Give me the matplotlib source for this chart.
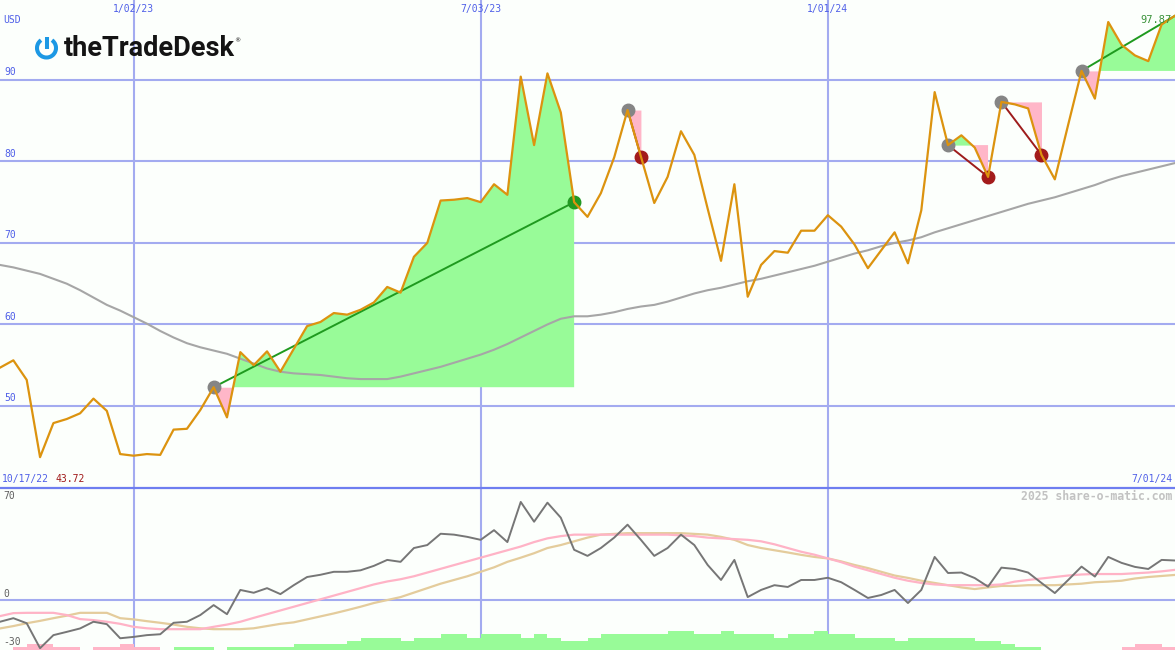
"""
Недельный график TTD (share-o-matic) - цена, скользящая средняя,
сигналы тренда и нижняя панель осциллятора
"""

import matplotlib
matplotlib.use('Agg')
import matplotlib.pyplot as plt
import matplotlib.transforms as mtransforms
from matplotlib.patches import Arc
import numpy as np
import pandas as pd

# --- данные (недельные отсчеты с 24.10.2022) ---
start_date = '2022-10-24'
price = [54.7, 55.6, 53.2, 43.72, 47.9, 48.4, 49.1, 50.9, 49.4, 44.1,
         43.9, 44.1, 44.0, 47.1, 47.2, 49.5, 52.3, 48.6, 56.6, 55.0,
         56.7, 54.2, 57.0, 59.8, 60.3, 61.4, 61.2, 61.8, 62.7, 64.6,
         63.9, 68.3, 70.0, 75.2, 75.3, 75.5, 75.0, 77.2, 75.9, 90.4,
         82.0, 90.8, 86.0, 75.0, 73.2, 76.1, 80.5, 86.3, 80.6, 74.9,
         78.1, 83.7, 80.8, 74.2, 67.8, 77.2, 63.4, 67.3, 69.0, 68.8,
         71.5, 71.5, 73.4, 72.0, 69.8, 66.9, 69.1, 71.3, 67.5, 74.0,
         88.5, 82.0, 83.2, 81.7, 78.1, 87.3, 87.0, 86.5, 80.8, 77.8,
         84.5, 91.1, 87.7, 97.1, 94.3, 93.0, 92.3, 96.8, 97.87]
ma40 = [67.3, 67.0, 66.6, 66.2, 65.6, 65.0, 64.2, 63.3, 62.4, 61.7,
        60.9, 60.1, 59.2, 58.4, 57.7, 57.2, 56.8, 56.4, 55.8, 55.2,
        54.6, 54.2, 54.0, 53.9, 53.8, 53.6, 53.4, 53.3, 53.3, 53.3,
        53.6, 54.0, 54.4, 54.8, 55.3, 55.8, 56.3, 56.9, 57.6, 58.4,
        59.2, 60.0, 60.7, 61.0, 61.0, 61.2, 61.5, 61.9, 62.2, 62.4,
        62.8, 63.3, 63.8, 64.2, 64.5, 64.9, 65.3, 65.6, 66.0, 66.4,
        66.8, 67.2, 67.7, 68.2, 68.7, 69.1, 69.6, 70.0, 70.3, 70.7,
        71.3, 71.8, 72.3, 72.8, 73.3, 73.8, 74.3, 74.8, 75.2, 75.6,
        76.1, 76.6, 77.1, 77.7, 78.2, 78.6, 79.0, 79.4, 79.8]

# сигналы: индекс начала, индекс конца, тип
sig_start = [16, 47, 71, 75, 81]
sig_end = [43, 48, 74, 78, 88]
sig_kind = ['up', 'down', 'down', 'down', 'open']

# нижняя панель
osc = [-14.6, -12.2, -15.6, -32.4, -23.6, -21.4, -19.1, -14.6, -16.2, -25.7,
       -24.8, -23.6, -23.0, -15.3, -14.6, -10.1, -3.4, -9.5, 6.8, 4.9,
       8.0, 4.0, 10.0, 15.5, 17.0, 19.0, 19.0, 20.0, 23.0, 27.0,
       25.7, 35.0, 37.0, 44.6, 44.0, 42.5, 40.5, 47.0, 39.0, 66.0,
       52.7, 65.5, 55.4, 33.8, 29.7, 35.0, 42.0, 50.7, 40.5, 29.7,
       35.0, 44.0, 37.0, 23.6, 13.5, 27.0, 2.0, 6.8, 10.0, 8.8,
       13.5, 13.5, 15.0, 12.0, 6.8, 1.4, 3.4, 6.8, -2.0, 6.8,
       29.0, 18.2, 18.5, 14.8, 9.0, 21.8, 20.9, 18.5, 11.5, 4.7,
       13.5, 22.5, 15.8, 29.0, 25.0, 22.3, 20.9, 27.0, 26.6]
osc_fast = [-10.8, -8.8, -8.6, -8.6, -8.6, -10.1, -12.8, -13.5, -14.6, -16.0,
            -18.0, -19.0, -19.6, -19.6, -19.6, -19.6, -18.0, -16.5, -14.6, -12.0,
            -9.5, -7.0, -4.5, -2.0, 0.5, 3.0, 5.5, 8.0, 10.5, 12.5,
            14.0, 16.0, 18.5, 21.0, 23.5, 26.0, 28.5, 31.0, 33.5, 36.0,
            39.0, 41.5, 43.0, 44.0, 44.0, 44.0, 44.0, 44.0, 44.0, 44.0,
            44.0, 43.5, 43.0, 42.0, 41.5, 41.0, 40.5, 39.5, 37.5, 35.0,
            32.5, 30.5, 28.0, 25.5, 22.5, 20.0, 17.5, 15.0, 13.0, 11.5,
            10.5, 10.0, 10.0, 10.0, 10.0, 10.5, 12.4, 13.5, 14.5, 15.5,
            16.5, 17.2, 17.5, 17.5, 17.5, 18.0, 18.5, 19.3, 20.3]
osc_slow = [-19.1, -17.5, -15.6, -14.0, -12.2, -10.5, -8.6, -8.6, -8.6, -12.2,
            -13.0, -14.2, -15.3, -16.5, -18.0, -19.0, -19.6, -19.6, -19.6, -19.0,
            -17.5, -16.0, -15.0, -13.0, -11.0, -9.0, -6.8, -4.5, -2.0, 0.0,
            2.0, 5.0, 8.0, 11.0, 13.5, 16.0, 19.0, 22.0, 25.7, 28.5,
            31.5, 35.0, 37.0, 39.5, 42.0, 44.0, 44.5, 45.0, 45.0, 45.0,
            45.0, 45.0, 44.5, 44.0, 42.5, 40.5, 37.0, 35.0, 33.5, 32.0,
            30.4, 29.0, 28.0, 26.0, 23.6, 21.5, 19.0, 16.5, 14.9, 13.0,
            11.5, 10.0, 8.5, 7.4, 8.5, 9.5, 9.5, 10.0, 10.0, 10.0,
            10.5, 11.0, 12.0, 12.4, 13.0, 14.5, 15.5, 16.2, 16.9]
strength = [0, -1, -2, -2, -1, -1, 0, -1, -1, -2,
            -1, -1, 0, 1, 1, 1, 0, 1, 1, 1,
            1, 1, 2, 2, 2, 2, 3, 4, 4, 4,
            3, 4, 4, 5, 5, 4, 5, 5, 5, 4,
            5, 4, 3, 3, 4, 5, 5, 5, 5, 5,
            6, 6, 5, 5, 6, 5, 5, 5, 4, 5,
            5, 6, 5, 5, 4, 4, 4, 3, 4, 4,
            4, 4, 4, 3, 3, 2, 1, 1, 0, 0,
            0, 0, 0, 0, -1, -2, -2, -1, -1]

grid_dates = ['2023-01-02', '2023-07-03', '2024-01-01']
grid_labels = ['1/02/23', '7/03/23', '1/01/24']
price_levels = [50, 60, 70, 80, 90]

# --- цвета ---
BG = '#fcfffc'
GRID = '#a3abf0'
BLUE_TXT = '#4f5fe8'
ORANGE = '#dc930f'
GREEN_FILL = '#98fb98'
PINK_FILL = '#ffb6c8'
MONO = 'DejaVu Sans Mono'

W, H = 1175, 650
x = np.arange(len(price))
p = np.array(price)
start = pd.Timestamp(start_date)
grid_pos = [(pd.Timestamp(d) - start).days / 7 for d in grid_dates]

fig = plt.figure(figsize=(W / 100, H / 100), dpi=100)
fig.patch.set_facecolor(BG)

ax = fig.add_axes([0, 163 / H, 1, 487 / H])
ax2 = fig.add_axes([0, 0, 1, 161 / H])
for a in (ax, ax2):
    a.set_facecolor(BG)
    a.set_xlim(0, len(price) - 1)
    for s in a.spines.values():
        s.set_visible(False)
    a.set_xticks([])
    a.set_yticks([])
    for gp in grid_pos:
        a.axvline(gp, color=GRID, lw=1.5, zorder=1)
ax.set_ylim(40.06, 99.8)
ax2.set_ylim(-33.6, 74.7)

# --- верхняя панель ---
lbl_tr = mtransforms.blended_transform_factory(ax.transAxes, ax.transData)
for lv in price_levels:
    ax.axhline(lv, color=GRID, lw=1.5, zorder=1)
    ax.annotate(str(lv), (0, lv), xycoords=lbl_tr, xytext=(3, 2),
                textcoords='offset points', va='bottom', ha='left',
                fontsize=7, family=MONO, color=BLUE_TXT)
top_tr = mtransforms.blended_transform_factory(ax.transData, ax.transAxes)
for gp, gl in zip(grid_pos, grid_labels):
    ax.text(gp, 0.991, gl, transform=top_tr, ha='center', va='top',
            fontsize=7, family=MONO, color=BLUE_TXT)

# заливки сигналов
for s, e, k in zip(sig_start, sig_end, sig_kind):
    xs = x[s:e + 1]
    ps = p[s:e + 1]
    lvl = np.full_like(ps, p[s])
    ax.fill_between(xs, lvl, ps, where=ps >= lvl, interpolate=True,
                    color=GREEN_FILL, lw=0, zorder=2)
    ax.fill_between(xs, lvl, ps, where=ps <= lvl, interpolate=True,
                    color=PINK_FILL, lw=0, zorder=2)

ax.plot(x, ma40, color='#a6a6a6', lw=1.5, zorder=3)

for s, e, k in zip(sig_start, sig_end, sig_kind):
    lc = '#9e1c1c' if k == 'down' else '#1f9a1f'
    ax.plot([s, e], [p[s], p[e]], color=lc, lw=1.4, zorder=4)
    ax.plot(s, p[s], 'o', ms=9, color='#858585', zorder=4.5)
    if k == 'up':
        ax.plot(e, p[e], 'o', ms=9, color='#229922', zorder=4.5)
    elif k == 'down':
        ax.plot(e, p[e], 'o', ms=9, color='#a31b1b', zorder=4.5)

ax.plot(x, p, color=ORANGE, lw=1.6, zorder=5)

# --- нижняя панель ---
ax2.axhline(0, color=GRID, lw=1.5, zorder=1)
st = np.array(strength)
bar_unit = 2.1
ax2.bar(x, np.abs(st) * bar_unit, bottom=-33.6, width=1.0, align='edge',
        color=np.where(st > 0, GREEN_FILL, PINK_FILL), lw=0, zorder=2)
ax2.plot(x, osc_slow, color='#e4cc9c', lw=1.6, zorder=3)
ax2.plot(x, osc_fast, color='#ffb3c6', lw=1.6, zorder=3)
ax2.plot(x, osc, color='#767676', lw=1.4, zorder=4)

lo_tr = mtransforms.blended_transform_factory(ax2.transAxes, ax2.transData)
for val, txt in [(70, '70'), (4, '0'), (-28, '-30')]:
    ax2.text(0.003, val, txt, transform=lo_tr, ha='left', va='center',
             fontsize=7, family=MONO, color='#606060', zorder=5)

# --- подписи и логотип ---
ov = fig.add_axes([0, 0, 1, 1])
ov.set_xlim(0, W)
ov.set_ylim(H, 0)
ov.axis('off')
ov.patch.set_alpha(0)
ov.plot([0, W], [487.5, 487.5], color='#6e7ef0', lw=1.6)

ov.text(3, 20, 'USD', fontsize=7, family=MONO, color=BLUE_TXT, va='center')
ov.text(1172, 20, '97.87', fontsize=7.5, family=MONO, color='#3a923a',
        va='center', ha='right', zorder=0)
ov.text(2, 484, '10/17/22', fontsize=7, family=MONO, color=BLUE_TXT,
        va='bottom')
ov.text(56, 484, '43.72', fontsize=7, family=MONO, color='#a01818',
        va='bottom')
ov.text(1172, 484, '7/01/24', fontsize=7, family=MONO, color=BLUE_TXT,
        va='bottom', ha='right')
ov.text(1172, 496, '2025 share-o-matic.com', fontsize=8.3, family=MONO,
        color='#c2c2c2', fontweight='bold', va='center', ha='right')

ov.add_patch(Arc((46.5, 48), 19, 19, theta1=305, theta2=235,
                 color='#1c98e4', lw=2.9))
ov.plot([46.5, 46.5], [36.5, 49], color='#1c98e4', lw=2.9,
        solid_capstyle='butt')
ov.text(64, 48, 'theTradeDesk', fontsize=19.5, fontweight='bold',
        family=['Roboto', 'DejaVu Sans'], color='#141414', va='center')
ov.text(234, 41, '®', fontsize=4.5, color='#141414', va='center')

fig.savefig('out.png', dpi=100, facecolor=BG)
